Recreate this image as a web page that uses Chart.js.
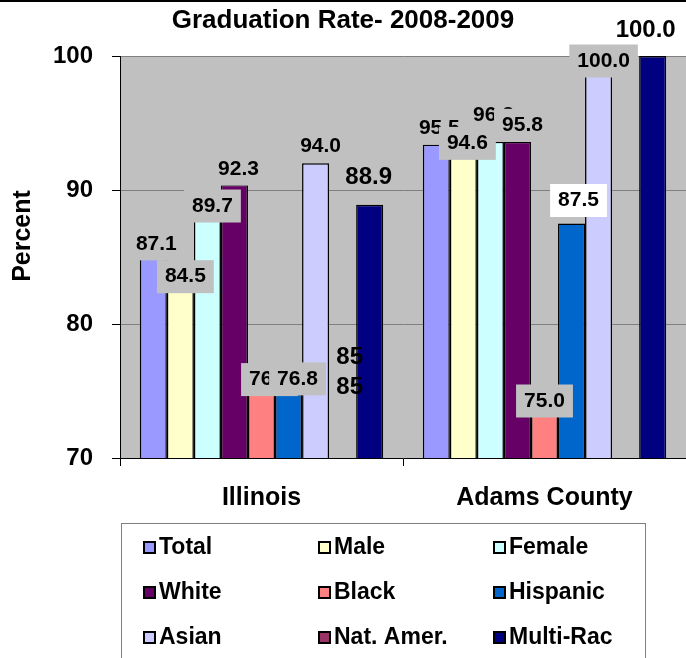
<!DOCTYPE html>
<html>
<head>
<meta charset="utf-8">
<title>Graduation Rate 2008-2009</title>
<script src="https://cdn.jsdelivr.net/npm/chart.js@4.4.1/dist/chart.umd.min.js"></script>
<style>
  html, body { margin: 0; padding: 0; background: #fff; }
  #wrap { width: 686px; height: 658px; }
</style>
</head>
<body>
<div id="wrap"><canvas id="grad" width="686" height="658"></canvas></div>
<script>
// ---- data ----
var categories = ["Illinois", "Adams County"];
var seriesNames = ["Total", "Male", "Female", "White", "Black", "Hispanic", "Asian", "Nat. Amer.", "Multi-Rac"];

// bar heights (as drawn in the picture)
var total    = [87.1, 93.4];
var male     = [84.5, 93.5];
var female   = [89.7, 93.6];
var white    = [90.4, 93.6];
var black    = [76.0, 75.0];
var hispanic = [76.8, 87.5];
var asian    = [92.0, 100.0];
var natAmer  = [null, null];
var multi    = [88.9, 100.0];

// value labels as printed on the chart
var totalLbl    = ["87.1", "95.5"];
var maleLbl     = ["84.5", "94.6"];
var femaleLbl   = ["89.7", "96.2"];
var whiteLbl    = ["92.3", "95.8"];
var blackLbl    = ["76.0", "75.0"];
var hispanicLbl = ["76.8", "87.5"];
var asianLbl    = ["94.0", "100.0"];
var natAmerLbl  = ["85\n85", ""];
var multiLbl    = ["88.9", "100.0"];

var yTicks = [70, 80, 90, 100];
var chartTitle = "Graduation Rate- 2008-2009";
var axisTitle = "Percent";

// ---- styling ----
var FONT = '"Liberation Sans", Arial, sans-serif';
var palette = ["#9999FF", "#FFFFCC", "#CCFFFF", "#660066", "#FF8080", "#0066CC", "#CCCCFF", "#993366", "#000080"];

// label nudges: "series-category": [dx, dy, box, big]
var labelStyle = {
  "0-0": [3, 15], "0-1": [3, 12],
  "1-0": [5, 13], "1-1": [4, 15],
  "2-0": [3, 8], "2-1": [3, 8],
  "3-0": [4, 10], "3-1": [5, 13],
  "4-0": [8, 2],  "4-1": [0, 10],
  "5-0": [9, 12], "5-1": [7, -23, "white"],
  "6-0": [5, 10], "6-1": [5, 5],
  "7-0": [7, 100, "none", true],
  "8-0": [-1, -27, "none", true], "8-1": [-7, -26, "none", true]
};
labelStyle["2-0"] = [5, 12];

var seriesValues = [total, male, female, white, black, hispanic, asian, natAmer, multi];
var seriesLabels = [totalLbl, maleLbl, femaleLbl, whiteLbl, blackLbl, hispanicLbl, asianLbl, natAmerLbl, multiLbl];

var datasets = seriesNames.map(function (name, i) {
  return {
    label: name,
    data: seriesValues[i],
    valueLabels: seriesLabels[i],
    backgroundColor: palette[i],
    borderColor: "#000",
    borderWidth: 1.5,
    borderSkipped: false
  };
});

// grey plot area + thin frame line at the top of the picture
var backdrop = {
  id: "backdrop",
  beforeDraw: function (chart) {
    var ctx = chart.ctx, a = chart.chartArea;
    ctx.save();
    ctx.fillStyle = "#fff";
    ctx.fillRect(0, 0, chart.width, chart.height);
    ctx.fillStyle = "#C0C0C0";
    ctx.fillRect(a.left, a.top, a.right - a.left, a.bottom - a.top);
    ctx.fillStyle = "#000";
    ctx.fillRect(0, 0, chart.width, 2);
    ctx.restore();
  }
};

var valueLabels = {
  id: "valueLabels",
  afterDatasetsDraw: function (chart) {
    var ctx = chart.ctx, ys = chart.scales.y;
    chart.data.datasets.forEach(function (ds, di) {
      var meta = chart.getDatasetMeta(di);
      ds.valueLabels.forEach(function (txt, ci) {
        if (!txt) return;
        var st = labelStyle[di + "-" + ci] || [0, 12];
        var lines = txt.split("\n");
        var cx = meta.data[ci].x + st[0];
        var cy = ys.getPixelForValue(parseFloat(lines[0])) + st[1];
        var box = st[2] || "gray";
        ctx.save();
        ctx.font = "bold " + (st[3] ? 24 : 21) + "px " + FONT;
        ctx.textAlign = "center";
        ctx.textBaseline = "middle";
        if (box !== "none") {
          var w = ctx.measureText(lines[0]).width + 16;
          ctx.fillStyle = box === "white" ? "#fff" : "#C0C0C0";
          ctx.fillRect(cx - w / 2, cy - 16.5, w, 33);
        }
        ctx.fillStyle = "#000";
        lines.forEach(function (l, k) { ctx.fillText(l, cx, cy + k * 30); });
        ctx.restore();
      });
    });
  }
};

// y title and the boxed legend below the axis
var extras = {
  id: "extras",
  afterDraw: function (chart) {
    var ctx = chart.ctx;
    ctx.save();
    ctx.translate(23, 236);
    ctx.rotate(-Math.PI / 2);
    ctx.font = "bold 25px " + FONT;
    ctx.fillStyle = "#000";
    ctx.textAlign = "center";
    ctx.textBaseline = "middle";
    ctx.fillText(axisTitle, 0, 0);
    ctx.restore();

    ctx.save();
    ctx.fillStyle = "#fff";
    ctx.fillRect(121.5, 523.5, 524, 140);
    ctx.strokeStyle = "#808080";
    ctx.lineWidth = 1;
    ctx.strokeRect(121.5, 523.5, 524, 140);
    var colX = [144, 319, 494], rowY = [547, 592, 637];
    ctx.font = "bold 23px " + FONT;
    ctx.textBaseline = "middle";
    ctx.textAlign = "left";
    chart.data.datasets.forEach(function (ds, i) {
      var x = colX[i % 3], y = rowY[Math.floor(i / 3)];
      ctx.fillStyle = ds.backgroundColor;
      ctx.fillRect(x, y - 5, 11, 11);
      ctx.strokeStyle = "#000";
      ctx.lineWidth = 2;
      ctx.strokeRect(x, y - 5, 11, 11);
      ctx.fillStyle = "#000";
      ctx.fillText(ds.label, x + 15, y + 1);
    });
    ctx.restore();
  }
};

Chart.defaults.font.family = FONT;
Chart.defaults.color = "#000";

new Chart(document.getElementById("grad"), {
  type: "bar",
  data: { labels: categories, datasets: datasets },
  plugins: [backdrop, valueLabels, extras],
  options: {
    responsive: false,
    animation: false,
    layout: { padding: { left: 0, right: 0, top: 0, bottom: 140 } },
    datasets: { bar: { categoryPercentage: 0.86, barPercentage: 1.0 } },
    plugins: {
      legend: { display: false },
      tooltip: { enabled: false },
      title: {
        display: true,
        text: chartTitle,
        color: "#000",
        font: { size: 26, weight: "bold" },
        padding: { top: 5, bottom: 19.8 }
      }
    },
    scales: {
      x: {
        afterFit: function (s) { s.height = 60; },
        grid: { offset: true, drawOnChartArea: false, tickLength: 8, tickColor: "#000" },
        border: { color: "#000", width: 1 },
        ticks: { font: { size: 25, weight: "bold" }, padding: 17, color: "#000" }
      },
      y: {
        min: yTicks[0],
        max: yTicks[yTicks.length - 1],
        afterFit: function (s) { s.width = 120; },
        afterBuildTicks: function (s) { s.ticks = yTicks.map(function (v) { return { value: v }; }); },
        grid: { color: "#808080", lineWidth: 1, tickLength: 8, tickColor: "#000" },
        border: { color: "#000", width: 1 },
        ticks: { font: { size: 24, weight: "bold" }, padding: 19, color: "#000" }
      }
    }
  }
});
</script>
</body>
</html>
